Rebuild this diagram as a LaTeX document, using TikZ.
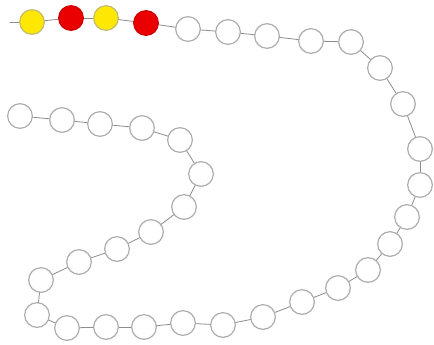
\documentclass[tikz,border=0pt]{standalone}
\begin{document}
\begin{tikzpicture}[x=0.75pt,y=-0.75pt,
  bead/.style={circle,draw=black!32,line width=0.9pt,fill=white,minimum size=18.5pt,inner sep=0pt},
  ybead/.style={bead,fill=yellow!95!red,draw=yellow!60!black!70},
  rbead/.style={bead,fill=red!92!black,draw=red!80!black},
  link/.style={draw=black!45,line width=0.6pt}]
\useasboundingbox (0,0) rectangle (434,344);
\coordinate (s) at (10,22);
\foreach \n/\x/\y in {1/32/22,2/71/18,3/106/18,4/146/23,5/188/29,6/228/32,7/267/36,8/311/41,9/351/42,10/380/68,11/403/104,12/420/149,13/420/185,14/407/217,15/390/244,16/368/270,17/338/288,18/302/302,19/263/317,20/223/325,21/183/323,22/144/327,23/106/327,24/67/328,25/37/315,26/41/280,27/79/262,28/117/249,29/151/232,30/184/207,31/201/174,32/180/140,33/142/128,34/100/124,35/62/120,36/20/116}
  \coordinate (c\n) at (\x,\y);
\draw[link] (s) -- (c1);
\foreach \a/\b in {1/2,2/3,3/4,4/5,5/6,6/7,7/8,8/9,9/10,10/11,11/12,12/13,13/14,14/15,15/16,16/17,17/18,18/19,19/20,20/21,21/22,22/23,23/24,24/25,25/26,26/27,27/28,28/29,29/30,30/31,31/32,32/33,33/34,34/35,35/36}
  \draw[link] (c\a) -- (c\b);
\node[ybead] (b1) at (c1) {};
\node[rbead] (b2) at (c2) {};
\node[ybead] (b3) at (c3) {};
\node[rbead] (b4) at (c4) {};
\foreach \n in {5,...,36}
  \node[bead] (b\n) at (c\n) {};
\end{tikzpicture}
\end{document}
